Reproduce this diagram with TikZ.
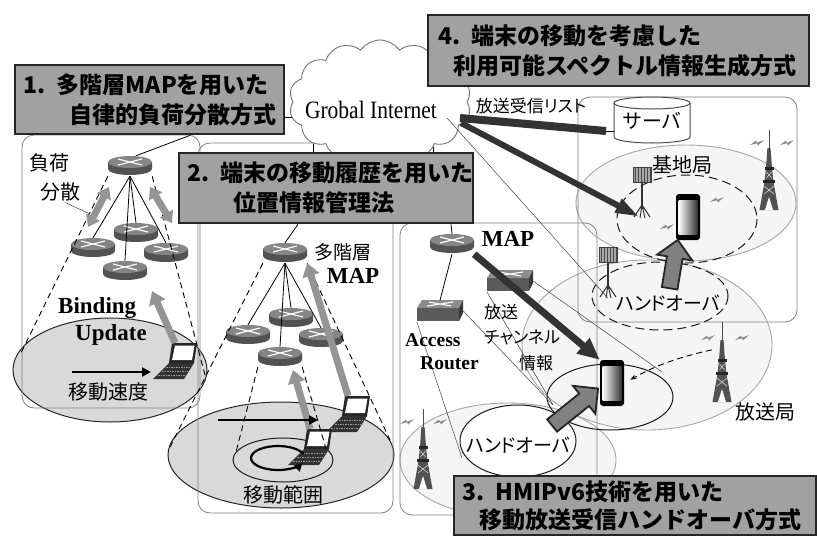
\documentclass[tikz,border=0pt]{standalone}
\usepackage{fontspec}
\setmainfont{Noto Sans CJK JP}
\newfontfamily\gothp{Noto Sans CJK JP}[RawFeature=+palt]
\newfontfamily\tms{Liberation Serif}
\newfontfamily\tmsn{Liberation Serif}[FakeStretch=0.86]
\usetikzlibrary{arrows.meta, shapes.symbols, shapes.arrows}

% device icons, drawn in px units with y pointing down
\tikzset{
  pics/router/.style={code={
    \fill[black!68] (-22,-3) -- (-22,4) arc[start angle=180, end angle=0, x radius=22, y radius=6] -- (22,-3) -- cycle;
    \fill[black!48] (0,-3) ellipse[x radius=22, y radius=6];
    \draw[white, line width=1.2pt] (-12,-6) -- (12,0) (-12,0) -- (12,-6);
    \node[minimum width=44pt, minimum height=20pt] (-n) at (0,1) {};
  }},
  pics/switch/.style={code={
    \fill[black!65] (-21,-3) rectangle (21,10);
    \fill[black!45] (-21,-3) -- (-16,-11) -- (25,-11) -- (21,-3) -- cycle;
    \fill[black!78] (21,-3) -- (25,-11) -- (25,2) -- (21,10) -- cycle;
    \draw[white, line width=1.1pt] (-9,-9) -- (13,-5) (-11,-5) -- (15,-9);
    \node[minimum width=46pt, minimum height=21pt] (-n) at (2,0) {};
  }},
  pics/phone/.style={code={
    \fill[black, rounded corners=3pt] (-12,-23) rectangle (12,23);
    \shade[left color=white, right color=black!80] (-9.5,-17) rectangle (9.5,17);
    \node[minimum width=24pt, minimum height=46pt] (-n) at (0,0) {};
  }},
  pics/laptop/.style={code={
    \fill[black!85] (-3,-19) -- (22,-19) -- (19,1) -- (-6,1) -- cycle;
    \fill[white] (0,-16.5) -- (19.5,-16.5) -- (17,-2) -- (-3,-2) -- cycle;
    \fill[black!80] (-6,1) -- (19,1) -- (9,17) -- (-22,17) -- cycle;
    \draw[black!40, line width=.8pt, dash pattern=on 1.5pt off 1pt]
      (-9,5) -- (15,5) (-13,9) -- (13,9) (-17,13) -- (10,13);
    \node[minimum width=44pt, minimum height=36pt] (-n) at (0,-1) {};
  }},
  pics/tower/.style={code={
    \draw[black!70, line width=1pt] (0,-40) -- (0,-20);
    \fill[black!68] (-1.6,-22) -- (1.6,-22) -- (3,-2) -- (4.5,12) -- (9.5,40)
      -- (-9.5,40) -- (-4.5,12) -- (-3,-2) -- cycle;
    \fill[black!85] (-4.5,-3) rectangle (4.5,0);
    \fill[black!85] (-6,10) rectangle (6,13);
    \fill[white] (-4,40) -- (0,27) -- (4,40) -- cycle;
    \draw[white, line width=.4pt] (-2.5,2) -- (2.5,8) (2.5,2) -- (-2.5,8)
      (-5,16) -- (5,24) (5,16) -- (-5,24);
    \node[minimum width=20pt, minimum height=80pt] (-n) at (0,0) {};
  }},
  pics/antenna/.style={code={
    \fill[black!35] (-9,-50) rectangle (9,-35);
    \foreach \i in {-7,-4,...,8} \draw[black!70, line width=.5pt] (\i,-50) -- (\i,-35);
    \draw[black!75, line width=.6pt] (-9,-50) rectangle (9,-35);
    \draw[black!80, line width=1.4pt] (0,-35) -- (0,-8);
    \draw[black!80, line width=1pt] (0,-12) -- (-8,0) (0,-12) -- (8,0) (0,-12) -- (-2,1) (0,-12) -- (3,1);
    \node[minimum width=20pt, minimum height=52pt] (-n) at (0,-25) {};
  }},
  pics/bolt/.style={code={
    \fill[black!45] (-7,2) -- (-1,-2.5) -- (0,-0.3) -- (7,-3) -- (1,2.5) -- (0,0.3) -- cycle;
  }},
}

\begin{document}
\begin{tikzpicture}[x=1pt, y=-1pt,
    every node/.style={font=\gothp\fontsize{20}{24}\selectfont, inner sep=0pt},
    mth/.style={draw=black!85, line width=2.4pt, fill=black!37, anchor=north west, align=left,
                inner xsep=8pt, font=\bfseries\fontsize{23}{30}\selectfont},
    region/.style={draw=black!50, line width=.8pt, rounded corners=12pt},
    bcast/.style={draw=black!35, line width=.9pt, fill=black!4},
    zone/.style={draw=black!85, line width=1pt, fill=black!15},
    ring/.style={draw=black!90, line width=1pt},
    dring/.style={ring, dash pattern=on 9pt off 5pt},
    cone/.style={line width=.9pt, dash pattern=on 6pt off 4pt},
    wire/.style={line width=.8pt},
    fine/.style={line width=.5pt, black!75},
    upg/.style={line width=7pt, black!42, -{Triangle[width=17pt,length=13pt]}},
    lbal/.style={line width=7pt, black!42, {Triangle[width=15pt,length=11pt]}-{Triangle[width=15pt,length=11pt]}},
    move/.style={line width=2.3pt, -{Triangle[width=9pt,length=9pt]}},
    dkarr/.style={line width=7pt, black!80, -{Triangle[width=19pt,length=22pt]}},
    hoarr/.style={single arrow, draw=black!85, fill=black!50, line width=1.8pt, inner sep=7pt,
                  single arrow head extend=10pt, minimum height=#1, sloped, allow upside down},
    serifb/.style={font=\tms\bfseries\fontsize{23}{27}\selectfont},
    inetcloud/.style={cloud, cloud puffs=14, cloud puff arc=110, cloud ignores aspect, draw=black!55,
                      line width=.9pt, fill=white, minimum width=182pt, minimum height=124pt},
]
\useasboundingbox (0,0) rectangle (817,536);

% coverage areas
\draw[bcast] (647,345) ellipse[x radius=125, y radius=85];
\draw[bcast] (508,460) ellipse[x radius=108, y radius=57];
\draw[bcast] (686,203) ellipse[x radius=110, y radius=58];
\draw[zone] (110,370) ellipse[x radius=97, y radius=52];
\draw[zone] (281,455) ellipse[x radius=113, y radius=53];
\draw[ring] (283,460) ellipse[x radius=50, y radius=22];

% the four method areas
\draw[region] (22,135) rectangle (200,408);
\draw[region] (198,143) rectangle (393,513);
\draw[region] (400,223) rectangle (597,515);
\draw[region] (578,97) rectangle (797,322);

\draw[dring] (687,219) ellipse[x radius=70, y radius=44];
\draw[dring] (660,296) ellipse[x radius=68, y radius=34];
\draw[ring] (610,397) ellipse[x radius=63, y radius=33];
\draw[ring, fill=white] (518,441) ellipse[x radius=58, y radius=36];

% free ends
\coordinate (cn1) at (20,355);   \coordinate (cn2) at (205,375);
\coordinate (cn3) at (170,447);  \coordinate (cn4) at (390,440);
\coordinate (cn5) at (236,452);  \coordinate (cn6) at (327,452);
\coordinate (cv1) at (462,458);  \coordinate (cv2) at (553,405);
\coordinate (cv3) at (662,372);
\coordinate (lb1a) at (88,227);  \coordinate (lb1b) at (109,187);
\coordinate (lb2a) at (172,223); \coordinate (lb2b) at (150,187);
\coordinate (bu1) at (152,291);  \coordinate (bu2) at (293,370);
\coordinate (mv1a) at (72,372);  \coordinate (mv1b) at (151,372);
\coordinate (mv2a) at (218,420); \coordinate (mv2b) at (318,420);
\coordinate (hoU) at (669,292);  \coordinate (hoUt) at (677,244);
\coordinate (hoL) at (549,428);  \coordinate (hoLt) at (595,391);
\coordinate (gw1) at (447,118);  \coordinate (gw2) at (461,123);
\coordinate (gw3) at (460,118);  \coordinate (srvbar) at (606,131);
\coordinate (lead) at (90,214);

% devices
\foreach \n/\x/\y in {r0/130/165, r2/136/232, r1/93/247, r3/166/252, r4/125/270,
                      m0/285/252, m1/291/317, m2/248/334, m3/321/337, m4/280/356, map/452/243}
  \pic (\n) at (\x,\y) {router};
\pic (sw) at (508,281) {switch};
\pic (ar) at (438,311) {switch};
\pic (tw1) at (769,170) {tower};
\pic (tw2) at (722,362) {tower};
\pic (tw3) at (423,449) {tower};
\pic (bs1) at (642,217) {antenna};
\pic (bs2) at (608,297) {antenna};
\foreach \x/\y in {757/143, 787/143, 717/200, 667/227, 708/338, 742/338, 407/422, 440/422}
  \pic at (\x,\y) {bolt};
\pic (ph1) at (688,217) {phone};
\pic (ph2) at (612,383) {phone};
\pic (lp1) at (175,362) {laptop};
\pic (lp2) at (348,415) {laptop};
\pic (lp3) at (310,448) {laptop};

% server
\draw[black!70, line width=1pt, fill=white] (614,103) -- (614,137)
  arc[start angle=180, end angle=0, x radius=38, y radius=6] -- (690,103);
\draw[black!70, line width=1pt, fill=white] (652,103) ellipse[x radius=38, y radius=6];
\node[minimum width=76pt, minimum height=46pt] (srv) at (652,121) {サーバ};

% coverage cones
\draw[cone] (r0-n.south west) -- (cn1);
\draw[cone] (r0-n.south east) -- (cn2);
\draw[cone] (m0-n.south west) -- (cn3);
\draw[cone] (m0-n.south east) -- (cn4);
\draw[cone] (m4-n.south west) -- (cn5);
\draw[cone] (m4-n.south east) -- (cn6);
\draw[fine] (ar-n.south west) -- (cv1);
\draw[fine] (ar-n.east) -- (cv2);
\draw[fine] (sw-n.south west) -- (cv2);
\draw[fine] (sw-n.east) -- (cv3);

% titles and the internet
\node[inetcloud] (inet) at (380,102) {};
\node[font=\tmsn\fontsize{25}{28}\selectfont, anchor=base] (inet-t) at (371,118) {Grobal Internet};
\node[mth, minimum width=269pt, minimum height=69pt, text width=253pt] (mth1) at (14,64)
  {\mbox{1. 多階層MAPを用いた}\\\hspace*{2em}\mbox{自律的負荷分散方式}};
\node[mth, minimum width=294pt, minimum height=70pt, text width=278pt] (mth2) at (178,152)
  {\mbox{2. 端末の移動履歴を用いた}\\\hspace*{2em}\mbox{位置情報管理法}};
\node[mth, minimum width=362pt, minimum height=59pt, text width=346pt,
      font=\bfseries\fontsize{23}{28}\selectfont] (mth3) at (453,475)
  {\mbox{3. HMIPv6技術を用いた}\\\hspace*{.75em}\mbox{移動放送受信ハンドオーバ方式}};
\node[mth, minimum width=381pt, minimum height=71pt, text width=361pt, inner xsep=10pt] (mth4) at (427,14)
  {\mbox{4. 端末の移動を考慮した}\\\hspace*{.65em}\mbox{利用可能スペクトル情報生成方式}};

% wires
\draw[wire] (mth1.east |- inet.190) -- (inet.190);
\draw[wire] (inet.212) -- (inet.212 |- mth2.north);
\draw[wire] (inet.320) -- (inet.320 |- mth2.north);
\draw[wire] (mth1.south -| 190,0) -- (r0-n.60);
\foreach \r in {r1, r2, r3, r4} \draw[wire] (r0-n.south) -- (\r-n.north);
\draw[wire] (mth2.south -| 298,0) -- (m0-n.north);
\foreach \r in {m1, m2, m3, m4} \draw[wire] (m0-n.south) -- (\r-n.north);
\draw[wire] (mth2.south -| 451,0) -- (map-n.north);
\draw[wire] (map-n.south) -- (ar-n.north);
\draw[fine] (gw1) -- (bs2-n.south);
\draw[line width=8pt, black!80] (gw3) -- (srvbar);
\draw[wire] (srvbar) -- (srvbar -| srv.west);

% arrows
\draw[lbal] (lb1a) -- (lb1b);
\draw[lbal] (lb2a) -- (lb2b);
\draw[upg] (lp1-n.north) -- (bu1);
\draw[upg] (lp3-n.north) -- (bu2);
\draw[upg] (lp2-n.north) -- (m0-n.south east);
\draw[move] (mv1a) -- (mv1b);
\draw[move] (mv2a) -- (mv2b);
\draw[line width=2.2pt, -{Triangle[width=8pt,length=8pt]}]
  (303.4,453.9) arc[start angle=-20, end angle=-335, x radius=27, y radius=12];
\draw[dkarr] (map-n.south east) -- (ph2-n.north west);
\draw[line width=6pt, black!80, -{Triangle[width=14pt,length=24pt]}, shorten >=3pt] (gw2) -- (bs1-n.south);
\draw[cone, -{Stealth[length=6pt]}, shorten >=7pt] (tw2-n.130) to[bend right=8] (ph2-n.east);
\path (hoU) -- (hoUt) node[midway, hoarr=49pt] {};
\path (hoL) -- (hoLt) node[midway, hoarr=59pt] {};

% labels
\node (lbtxt) at (50,163) {負荷};
\node (lbtxt2) at (60,192) {分散};
\draw[fine] (lbtxt2.south) ++(5,1) -- (lead);
\node[serifb, anchor=base west] (bind) at (58,313) {Binding};
\node[serifb, anchor=base west] (upd) at (75,340) {Update};
\node (spd) at (108,392) {移動速度};
\node[font=\gothp\fontsize{19}{23}\selectfont] (hier) at (343,252) {多階層};
\node[serifb, anchor=base] (hmap) at (353,283) {MAP};
\node (rng) at (283,495) {移動範囲};
\node[serifb, anchor=base] (mapl) at (508,246) {MAP};
\node[font=\tms\bfseries\fontsize{19.5}{23}\selectfont, anchor=base west] (acc) at (405,346.5) {Access};
\node[font=\tms\bfseries\fontsize{19.5}{23}\selectfont, anchor=base west] (rtr) at (420,369.5) {Router};
\node[font=\gothp\fontsize{17}{20}\selectfont] (ch1) at (501,312) {放送};
\node[font=\gothp\fontsize{17}{20}\selectfont] (ch2) at (522,337) {チャンネル};
\node[font=\gothp\fontsize{17}{20}\selectfont] (ch3) at (536,363) {情報};
\node[font=\gothp\fontsize{17}{20}\selectfont] (list) at (531,106) {放送受信リスト};
\node (bsl) at (682,165) {基地局};
\node[font=\gothp\fontsize{19}{23}\selectfont] (hoa) at (668,303) {ハンドオーバ};
\node[font=\gothp\fontsize{19}{23}\selectfont] (hob) at (518,445) {ハンドオーバ};
\node (bcl) at (765,412) {放送局};
\end{tikzpicture}
\end{document}
